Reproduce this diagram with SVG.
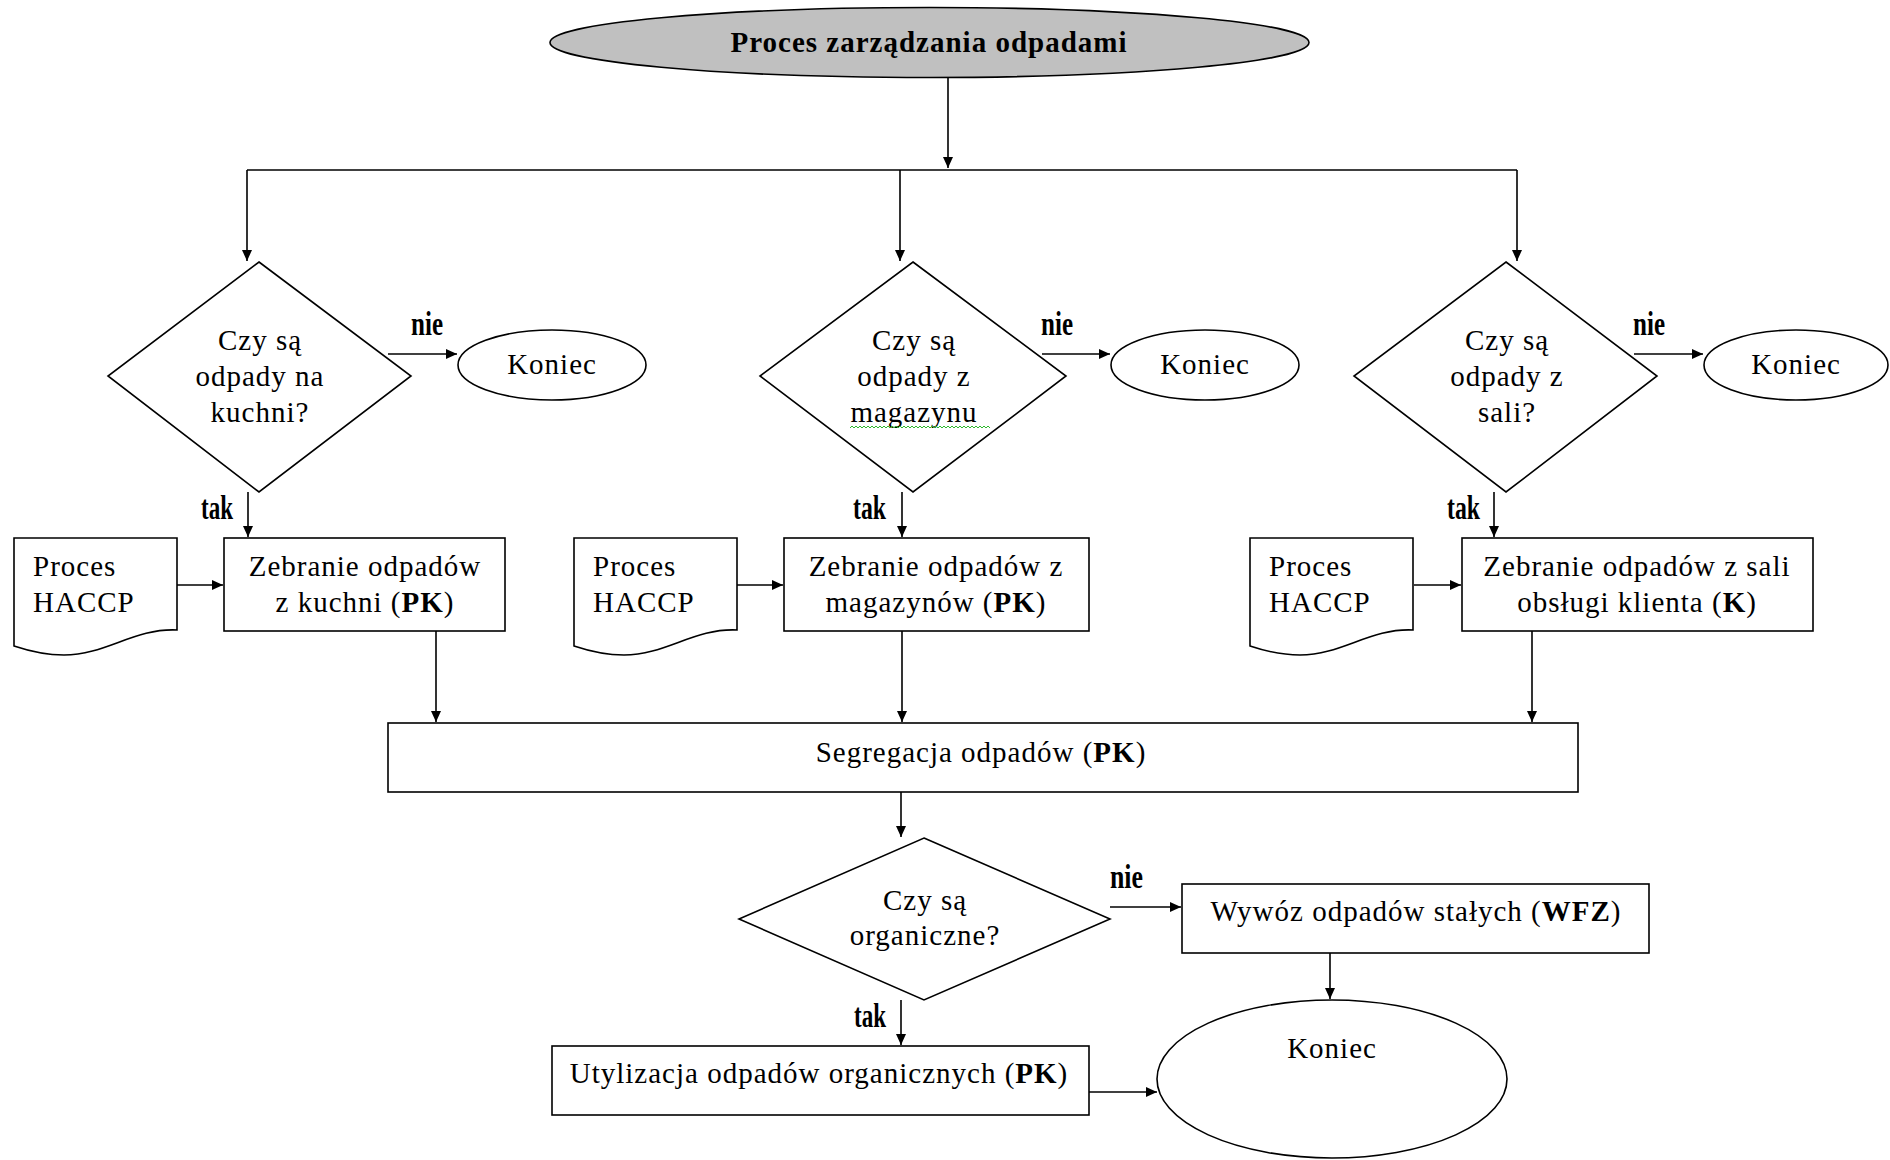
<svg xmlns="http://www.w3.org/2000/svg" xmlns:xlink="http://www.w3.org/1999/xlink" width="1890" height="1160" viewBox="0 0 1890 1160">
<style>
.shape{fill:#fff;stroke:#000;stroke-width:1.6}
.ln{fill:none;stroke:#000;stroke-width:1.6}
.t{font-family:"Liberation Serif","Times New Roman",serif;font-size:29px;letter-spacing:1px;fill:#000}
.m{text-anchor:middle}
.b{font-weight:bold}
.lbl{font-family:"Liberation Serif","Times New Roman",serif;font-weight:bold;font-size:34px;fill:#000}
</style>
<defs>
<marker id="ah" markerUnits="userSpaceOnUse" markerWidth="12" markerHeight="10" refX="11" refY="5" orient="auto">
<path d="M0,0 L11,5 L0,10 Z" fill="#000"/>
</marker>
<path id="doc" d="M0,0 H163 V92 C120,90 92,117 50,117 C30,117 12,112 0,108 Z"/>
</defs>
<rect width="1890" height="1160" fill="#fff"/>

<g id="start">
<ellipse cx="929.5" cy="42.5" rx="379.5" ry="35" fill="#c0c0c0" stroke="#000" stroke-width="1.6"/>
<text class="t m b" x="929" y="52">Proces zarządzania odpadami</text>
</g>

<g id="d1">
<polygon class="shape" points="259,262 411,376 259,492 108,376"/>
<text class="t m" x="260" y="350">Czy są</text>
<text class="t m" x="260" y="386">odpady na</text>
<text class="t m" x="260" y="422">kuchni?</text>
</g>
<g id="k1">
<ellipse class="shape" cx="552" cy="365" rx="94" ry="35"/>
<text class="t m" x="552" y="374">Koniec</text>
</g>
<g id="doc1">
<use xlink:href="#doc" href="#doc" class="shape" transform="translate(14,538)"/>
<text class="t" x="33" y="576">Proces</text>
<text class="t" x="33" y="612">HACCP</text>
</g>
<g id="b1">
<rect class="shape" x="224" y="538" width="281" height="93"/>
<text class="t m" x="365" y="576">Zebranie odpadów</text>
<text class="t m" x="365" y="612">z kuchni (<tspan class="b">PK</tspan>)</text>
</g>

<g id="d2">
<polygon class="shape" points="913,262 1066,376 913,492 760,376"/>
<text class="t m" x="914" y="350">Czy są</text>
<text class="t m" x="914" y="386">odpady z</text>
<text class="t m" x="914" y="422">magazynu</text>
<path d="M850,428 l2,-2 l2,2 l2,-2 l2,2 l2,-2 l2,2 l2,-2 l2,2 l2,-2 l2,2 l2,-2 l2,2 l2,-2 l2,2 l2,-2 l2,2 l2,-2 l2,2 l2,-2 l2,2 l2,-2 l2,2 l2,-2 l2,2 l2,-2 l2,2 l2,-2 l2,2 l2,-2 l2,2 l2,-2 l2,2 l2,-2 l2,2 l2,-2 l2,2 l2,-2 l2,2 l2,-2 l2,2 l2,-2 l2,2 l2,-2 l2,2 l2,-2 l2,2 l2,-2 l2,2 l2,-2 l2,2 l2,-2 l2,2 l2,-2 l2,2 l2,-2 l2,2 l2,-2 l2,2 l2,-2 l2,2 l2,-2 l2,2 l2,-2 l2,2 l2,-2 l2,2 l2,-2 l2,2 l2,-2 l2,2" fill="none" stroke="#2db82d" stroke-width="1"/>
</g>
<g id="k2">
<ellipse class="shape" cx="1205" cy="365" rx="94" ry="35"/>
<text class="t m" x="1205" y="374">Koniec</text>
</g>
<g id="doc2">
<use xlink:href="#doc" href="#doc" class="shape" transform="translate(574,538)"/>
<text class="t" x="593" y="576">Proces</text>
<text class="t" x="593" y="612">HACCP</text>
</g>
<g id="b2">
<rect class="shape" x="784" y="538" width="305" height="93"/>
<text class="t m" x="936" y="576">Zebranie odpadów z</text>
<text class="t m" x="936" y="612">magazynów (<tspan class="b">PK</tspan>)</text>
</g>

<g id="d3">
<polygon class="shape" points="1506,262 1657,376 1506,492 1354,376"/>
<text class="t m" x="1507" y="350">Czy są</text>
<text class="t m" x="1507" y="386">odpady z</text>
<text class="t m" x="1507" y="422">sali?</text>
</g>
<g id="k3">
<ellipse class="shape" cx="1796" cy="365" rx="92" ry="35"/>
<text class="t m" x="1796" y="374">Koniec</text>
</g>
<g id="doc3">
<use xlink:href="#doc" href="#doc" class="shape" transform="translate(1250,538)"/>
<text class="t" x="1269" y="576">Proces</text>
<text class="t" x="1269" y="612">HACCP</text>
</g>
<g id="b3">
<rect class="shape" x="1462" y="538" width="351" height="93"/>
<text class="t m" x="1637" y="576">Zebranie odpadów z sali</text>
<text class="t m" x="1637" y="612">obsługi klienta (<tspan class="b">K</tspan>)</text>
</g>

<g id="seg">
<rect class="shape" x="388" y="723" width="1190" height="69"/>
<text class="t m" x="981" y="762">Segregacja odpadów (<tspan class="b">PK</tspan>)</text>
</g>

<g id="d4">
<polygon class="shape" points="924,838 1110,919 924,1000 739,919"/>
<text class="t m" x="925" y="910">Czy są</text>
<text class="t m" x="925" y="945">organiczne?</text>
</g>
<g id="wyw">
<rect class="shape" x="1182" y="884" width="467" height="69"/>
<text class="t m" x="1416" y="921">Wywóz odpadów stałych (<tspan class="b">WFZ</tspan>)</text>
</g>
<g id="uty">
<rect class="shape" x="552" y="1046" width="537" height="69"/>
<text class="t m" x="819" y="1083">Utylizacja odpadów organicznych (<tspan class="b">PK</tspan>)</text>
</g>
<g id="kend">
<ellipse class="shape" cx="1332" cy="1079" rx="175" ry="79"/>
<text class="t m" x="1332" y="1058">Koniec</text>
</g>

<g id="labels">
<text class="lbl" x="411" y="335" textLength="32" lengthAdjust="spacingAndGlyphs">nie</text>
<text class="lbl" x="1041" y="335" textLength="32" lengthAdjust="spacingAndGlyphs">nie</text>
<text class="lbl" x="1633" y="335" textLength="32" lengthAdjust="spacingAndGlyphs">nie</text>
<text class="lbl" x="1110" y="888" textLength="33" lengthAdjust="spacingAndGlyphs">nie</text>
<text class="lbl" x="201" y="519" textLength="32" lengthAdjust="spacingAndGlyphs">tak</text>
<text class="lbl" x="853" y="519" textLength="33" lengthAdjust="spacingAndGlyphs">tak</text>
<text class="lbl" x="1447" y="519" textLength="33" lengthAdjust="spacingAndGlyphs">tak</text>
<text class="lbl" x="854" y="1027" textLength="32" lengthAdjust="spacingAndGlyphs">tak</text>
</g>

<g id="connectors">
<path class="ln" d="M948,78 V168" marker-end="url(#ah)"/>
<path class="ln" d="M247,170 H1517"/>
<path class="ln" d="M247,170 V261" marker-end="url(#ah)"/>
<path class="ln" d="M900,170 V261" marker-end="url(#ah)"/>
<path class="ln" d="M1517,170 V261" marker-end="url(#ah)"/>
<path class="ln" d="M388,354 H457" marker-end="url(#ah)"/>
<path class="ln" d="M1042,354 H1110" marker-end="url(#ah)"/>
<path class="ln" d="M1634,354 H1703" marker-end="url(#ah)"/>
<path class="ln" d="M248,492 V537" marker-end="url(#ah)"/>
<path class="ln" d="M902,492 V537" marker-end="url(#ah)"/>
<path class="ln" d="M1494,492 V537" marker-end="url(#ah)"/>
<path class="ln" d="M177,585 H223" marker-end="url(#ah)"/>
<path class="ln" d="M737,585 H783" marker-end="url(#ah)"/>
<path class="ln" d="M1414,585 H1461" marker-end="url(#ah)"/>
<path class="ln" d="M436,631 V722" marker-end="url(#ah)"/>
<path class="ln" d="M902,631 V722" marker-end="url(#ah)"/>
<path class="ln" d="M1532,631 V722" marker-end="url(#ah)"/>
<path class="ln" d="M901,792 V837" marker-end="url(#ah)"/>
<path class="ln" d="M1110,907 H1181" marker-end="url(#ah)"/>
<path class="ln" d="M901,1000 V1045" marker-end="url(#ah)"/>
<path class="ln" d="M1330,953 V999" marker-end="url(#ah)"/>
<path class="ln" d="M1089,1092 H1157" marker-end="url(#ah)"/>
</g>
</svg>
